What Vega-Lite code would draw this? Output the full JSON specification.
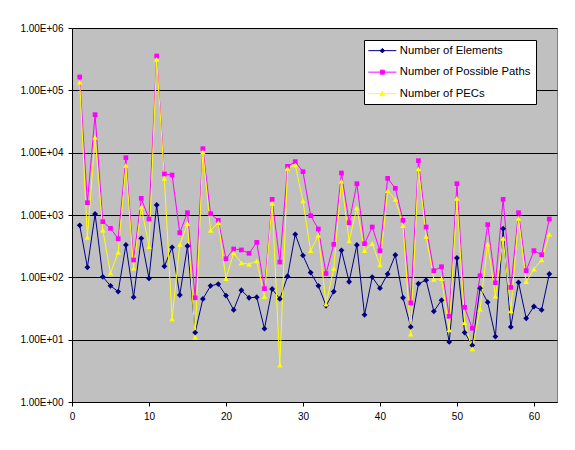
{
  "$schema": "https://vega.github.io/schema/vega-lite/v6.json",
  "width": 485,
  "height": 374,
  "autosize": {"type": "none"},
  "padding": {"left": 72, "top": 28, "right": 18, "bottom": 48},
  "background": "white",
  "config": {
    "font": "Liberation Sans",
    "view": {"fill": "#C0C0C0", "stroke": "#808080", "strokeWidth": 1}
  },
  "data": {"values": [
    {"n":1,"Number of Elements":683,"Number of Possible Paths":163700,"Number of PECs":136000},
    {"n":2,"Number of Elements":145,"Number of Possible Paths":1578,"Number of PECs":438},
    {"n":3,"Number of Elements":1037,"Number of Possible Paths":40700,"Number of PECs":17600},
    {"n":4,"Number of Elements":102,"Number of Possible Paths":782,"Number of PECs":574},
    {"n":5,"Number of Elements":73,"Number of Possible Paths":611,"Number of PECs":117},
    {"n":6,"Number of Elements":59,"Number of Possible Paths":417,"Number of PECs":252},
    {"n":7,"Number of Elements":330,"Number of Possible Paths":8300,"Number of PECs":6270},
    {"n":8,"Number of Elements":48,"Number of Possible Paths":190,"Number of PECs":141},
    {"n":9,"Number of Elements":422,"Number of Possible Paths":1850,"Number of PECs":1343},
    {"n":10,"Number of Elements":96,"Number of Possible Paths":863,"Number of PECs":310},
    {"n":11,"Number of Elements":1446,"Number of Possible Paths":355000,"Number of PECs":314000},
    {"n":12,"Number of Elements":150,"Number of Possible Paths":4550,"Number of PECs":3870},
    {"n":13,"Number of Elements":303,"Number of Possible Paths":4380,"Number of PECs":21.5},
    {"n":14,"Number of Elements":52,"Number of Possible Paths":521,"Number of PECs":334},
    {"n":15,"Number of Elements":318,"Number of Possible Paths":1090,"Number of PECs":726},
    {"n":16,"Number of Elements":13,"Number of Possible Paths":47,"Number of PECs":10.9},
    {"n":17,"Number of Elements":45,"Number of Possible Paths":11600,"Number of PECs":10250},
    {"n":18,"Number of Elements":73,"Number of Possible Paths":1050,"Number of PECs":567},
    {"n":19,"Number of Elements":78,"Number of Possible Paths":821,"Number of PECs":754},
    {"n":20,"Number of Elements":51,"Number of Possible Paths":199,"Number of PECs":95},
    {"n":21,"Number of Elements":30,"Number of Possible Paths":285,"Number of PECs":246},
    {"n":22,"Number of Elements":62,"Number of Possible Paths":275,"Number of PECs":170},
    {"n":23,"Number of Elements":47,"Number of Possible Paths":243,"Number of PECs":162},
    {"n":24,"Number of Elements":48,"Number of Possible Paths":364,"Number of PECs":183},
    {"n":25,"Number of Elements":15,"Number of Possible Paths":66,"Number of PECs":49},
    {"n":26,"Number of Elements":65,"Number of Possible Paths":1783,"Number of PECs":1538},
    {"n":27,"Number of Elements":45,"Number of Possible Paths":176,"Number of PECs":3.9},
    {"n":28,"Number of Elements":104,"Number of Possible Paths":6040,"Number of PECs":5610},
    {"n":29,"Number of Elements":490,"Number of Possible Paths":7180,"Number of PECs":6340},
    {"n":30,"Number of Elements":225,"Number of Possible Paths":4960,"Number of PECs":1678},
    {"n":31,"Number of Elements":119,"Number of Possible Paths":975,"Number of PECs":268},
    {"n":32,"Number of Elements":73,"Number of Possible Paths":596,"Number of PECs":472},
    {"n":33,"Number of Elements":35,"Number of Possible Paths":115,"Number of PECs":37},
    {"n":34,"Number of Elements":59,"Number of Possible Paths":338,"Number of PECs":139},
    {"n":35,"Number of Elements":271,"Number of Possible Paths":4720,"Number of PECs":3510},
    {"n":36,"Number of Elements":85,"Number of Possible Paths":754,"Number of PECs":383},
    {"n":37,"Number of Elements":330,"Number of Possible Paths":3180,"Number of PECs":1295},
    {"n":38,"Number of Elements":25,"Number of Possible Paths":347,"Number of PECs":268},
    {"n":39,"Number of Elements":101,"Number of Possible Paths":642,"Number of PECs":347},
    {"n":40,"Number of Elements":67,"Number of Possible Paths":268,"Number of PECs":158},
    {"n":41,"Number of Elements":113,"Number of Possible Paths":3870,"Number of PECs":2456},
    {"n":42,"Number of Elements":228,"Number of Possible Paths":2680,"Number of PECs":1783},
    {"n":43,"Number of Elements":47,"Number of Possible Paths":821,"Number of PECs":674},
    {"n":44,"Number of Elements":16,"Number of Possible Paths":39,"Number of PECs":12.3},
    {"n":45,"Number of Elements":79,"Number of Possible Paths":7440,"Number of PECs":5470},
    {"n":46,"Number of Elements":90,"Number of Possible Paths":642,"Number of PECs":449},
    {"n":47,"Number of Elements":28.5,"Number of Possible Paths":128,"Number of PECs":93},
    {"n":48,"Number of Elements":43,"Number of Possible Paths":148,"Number of PECs":95},
    {"n":49,"Number of Elements":9.2,"Number of Possible Paths":23.7,"Number of PECs":14.3},
    {"n":50,"Number of Elements":204,"Number of Possible Paths":3180,"Number of PECs":1850},
    {"n":51,"Number of Elements":13,"Number of Possible Paths":33,"Number of PECs":18.7},
    {"n":52,"Number of Elements":8.1,"Number of Possible Paths":15.2,"Number of PECs":7.1},
    {"n":53,"Number of Elements":67,"Number of Possible Paths":106,"Number of PECs":31},
    {"n":54,"Number of Elements":40,"Number of Possible Paths":700,"Number of PECs":338},
    {"n":55,"Number of Elements":11.2,"Number of Possible Paths":82,"Number of PECs":50},
    {"n":56,"Number of Elements":604,"Number of Possible Paths":1783,"Number of PECs":422},
    {"n":57,"Number of Elements":16,"Number of Possible Paths":69,"Number of PECs":29},
    {"n":58,"Number of Elements":83,"Number of Possible Paths":1090,"Number of PECs":885},
    {"n":59,"Number of Elements":22,"Number of Possible Paths":128,"Number of PECs":85},
    {"n":60,"Number of Elements":34,"Number of Possible Paths":268,"Number of PECs":136},
    {"n":61,"Number of Elements":30,"Number of Possible Paths":231,"Number of PECs":190},
    {"n":62,"Number of Elements":113,"Number of Possible Paths":863,"Number of PECs":490}
  ]},
  "transform": [
    {"fold": ["Number of Elements", "Number of Possible Paths", "Number of PECs"], "as": ["series", "value"]}
  ],
  "encoding": {
    "x": {
      "field": "n", "type": "quantitative",
      "scale": {"domain": [0, 63], "nice": false, "zero": false},
      "axis": {"values": [0, 10, 20, 30, 40, 50, 60], "grid": false, "title": null,
               "tickSize": 4, "tickColor": "black", "domainColor": "black",
               "labelFontSize": 10, "labelColor": "black", "labelPadding": 5, "labelFlush": false}
    },
    "y": {
      "field": "value", "type": "quantitative",
      "scale": {"type": "log", "domain": [1, 1000000], "nice": false},
      "axis": {"values": [1, 10, 100, 1000, 10000, 100000, 1000000], "grid": true,
               "gridColor": "black", "gridWidth": 1, "gridOpacity": 1, "title": null,
               "labelExpr": "'1.00E+0' + round(log(datum.value) / LN10)",
               "tickSize": 4, "tickColor": "black", "domainColor": "black",
               "labelFontSize": 10, "labelColor": "black", "labelPadding": 5}
    },
    "color": {
      "field": "series", "type": "nominal",
      "scale": {"domain": ["Number of Elements", "Number of Possible Paths", "Number of PECs"],
                "range": ["#000080", "#FF00FF", "#FFFF00"]},
      "legend": {
        "orient": "none", "legendX": 292, "legendY": 12, "title": null,
        "fillColor": "white", "strokeColor": "black", "padding": 5,
        "symbolSize": 100, "symbolOffset": 7.7, "labelOffset": 11.8,
        "labelFontSize": 11.3, "labelColor": "black", "labelLimit": 300, "rowPadding": 9.5,
        "encode": {
          "symbols": {
            "update": {
              "size": {"value": 100},
              "strokeWidth": {"value": 1},
              "opacity": {"value": 1},
              "shape": {"signal": "datum.value === 'Number of Elements' ? 'M-2.8,0H2.8M0,-0.45L0.45,0L0,0.45L-0.45,0Z' : (datum.value === 'Number of Possible Paths' ? 'M-2.8,0H2.8M-0.4,-0.4H0.4V0.4H-0.4Z' : 'M-2.8,0H2.8M0,-0.5L0.5,0.4H-0.5Z')"},
              "fill": {"signal": "datum.value === 'Number of Elements' ? '#000080' : (datum.value === 'Number of Possible Paths' ? '#FF00FF' : '#FFFF00')"},
              "stroke": {"signal": "datum.value === 'Number of Elements' ? '#000080' : (datum.value === 'Number of Possible Paths' ? '#FF00FF' : '#FFFF00')"}
            }
          }
        }
      }
    }
  },
  "layer": [
    {"mark": {"type": "line", "strokeWidth": 1}},
    {
      "transform": [{"filter": "datum.series === 'Number of Elements'"}],
      "mark": {"type": "point", "filled": true, "opacity": 1, "size": 34, "shape": "diamond"}
    },
    {
      "transform": [{"filter": "datum.series === 'Number of Possible Paths'"}],
      "mark": {"type": "point", "filled": true, "opacity": 1, "size": 22, "shape": "square"}
    },
    {
      "transform": [{"filter": "datum.series === 'Number of PECs'"}],
      "mark": {"type": "point", "filled": true, "opacity": 1, "size": 30, "shape": "triangle-up"}
    }
  ]
}
